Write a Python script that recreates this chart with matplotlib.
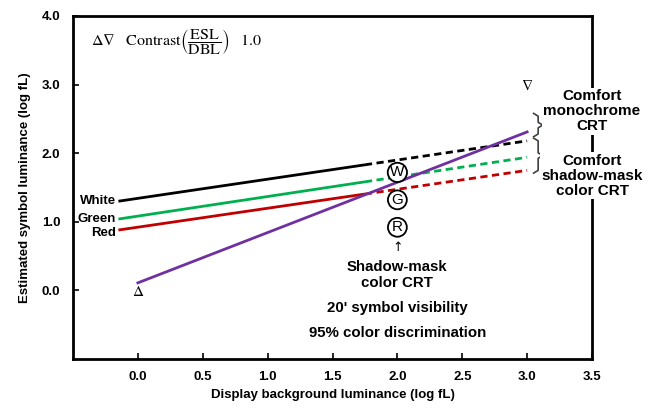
import matplotlib
matplotlib.use("Agg")
import matplotlib.pyplot as plt

plt.rcParams['font.family'] = ['Liberation Sans', 'DejaVu Sans']
plt.rcParams['mathtext.fontset'] = 'stix'

# Data (log fL)
series_names = ["White", "Green", "Red"]
series_colors = ["#000000", "#00b050", "#c00000"]
start_x = [-0.15, -0.15, -0.15]
start_y = [1.30, 1.04, 0.88]
break_x = [1.75, 1.75, 1.75]
end_x = [3.0, 3.0, 3.0]
end_y = [2.18, 1.94, 1.75]

contrast_x = [0.0, 3.0]
contrast_y = [0.11, 2.31]

circle_letters = ["W", "G", "R"]
circle_x = [2.0, 2.0, 2.0]
circle_y = [1.72, 1.32, 0.92]

x_ticks = [0.0, 0.5, 1.0, 1.5, 2.0, 2.5, 3.0, 3.5]
y_ticks = [0.0, 1.0, 2.0, 3.0, 4.0]

fig = plt.figure(figsize=(6.54, 4.09), dpi=100)
ax = fig.add_axes([73/654, 1 - 359/409, (592-73)/654, (359-16)/409])
ax.set_xlim(-0.5, 3.5)
ax.set_ylim(-1.0, 4.0)

for name, c, sx, sy, bx, ex, ey in zip(series_names, series_colors, start_x, start_y, break_x, end_x, end_y):
    slope = (ey - sy) / (ex - sx)
    by = sy + slope * (bx - sx)
    ax.plot([sx, bx], [sy, by], color=c, lw=2.0, solid_capstyle='butt')
    ax.plot([bx, ex], [by, ey], color=c, lw=2.0, dashes=(2.6, 1.6))

ax.plot(contrast_x, contrast_y, color="#7030a0", lw=2.0, zorder=3)

# series labels
lbl_dy = [0.0, 0.0, -0.05]
for name, sx, sy, d in zip(series_names, start_x, start_y, lbl_dy):
    ax.text(sx - 0.02, sy + d, name, ha='right', va='center', fontsize=9.5, fontweight='bold')

# circled letters
for L, cx, cy in zip(circle_letters, circle_x, circle_y):
    ax.text(cx, cy, L, ha='center', va='center', fontsize=11, zorder=5,
            bbox=dict(boxstyle='circle,pad=0.16', fc='white', ec='black', lw=1.3))

ax.text(2.0, 0.62, "\u2191", ha='center', va='center', fontsize=9, family='DejaVu Sans')
ax.text(2.0, 0.22, "Shadow-mask\ncolor CRT", ha='center', va='center', fontsize=10.8,
        fontweight='bold', linespacing=1.15)
ax.text(2.0, -0.26, "20' symbol visibility", ha='center', va='center', fontsize=10.8, fontweight='bold')
ax.text(2.0, -0.62, "95% color discrimination", ha='center', va='center', fontsize=10.8, fontweight='bold')

# triangles
ax.text(0.0, -0.02, r"$\Delta$", ha='center', va='center', fontsize=11)
ax.text(3.0, 2.98, r"$\nabla$", ha='center', va='center', fontsize=11)

# contrast formula
ax.text(-0.36, 3.62, r"$\Delta\nabla\quad\mathrm{Contrast}\left(\dfrac{\mathrm{ESL}}{\mathrm{DBL}}\right)\quad 1.0$",
        ha='left', va='center', fontsize=11.5)

# braces
def brace(ytop, ybot, x0=3.05, x1=3.085, x2=3.12):
    ym = (ytop + ybot) / 2
    d = 0.04
    xs = [x0, x1, x1, x2, x1, x1, x0]
    ys = [ytop, ytop - d, ym + d, ym, ym - d, ybot + d, ybot]
    ax.plot(xs, ys, color='#404040', lw=1.2, clip_on=False)

brace(2.58, 2.24)
brace(2.22, 1.71)

ax.text(3.5, 2.61, "Comfort\nmonochrome\nCRT", ha='center', va='center', fontsize=11,
        fontweight='bold', linespacing=1.1, clip_on=False,
        bbox=dict(boxstyle='square,pad=0.1', fc='white', ec='none'), zorder=6)
ax.text(3.5, 1.67, "Comfort\nshadow-mask\ncolor CRT", ha='center', va='center', fontsize=11,
        fontweight='bold', linespacing=1.1, clip_on=False,
        bbox=dict(boxstyle='square,pad=0.1', fc='white', ec='none'), zorder=6)

ax.set_xticks(x_ticks)
ax.set_xticklabels([f"{v:.1f}" for v in x_ticks])
ax.set_yticks(y_ticks)
ax.set_yticklabels([f"{v:.1f}" for v in y_ticks])
ax.tick_params(direction='in', length=4, width=1.2, labelsize=9.5, pad=9)
for lab in ax.get_xticklabels() + ax.get_yticklabels():
    lab.set_fontweight('bold')
for s in ax.spines.values():
    s.set_linewidth(2.0)
    s.set_zorder(4)

ax.set_xlabel("Display background luminance (log fL)", fontsize=9.5, fontweight='bold', labelpad=4)
ax.set_ylabel("Estimated symbol luminance (log fL)", fontsize=9.5, fontweight='bold', labelpad=8)

fig.savefig("out.png", dpi=100)
